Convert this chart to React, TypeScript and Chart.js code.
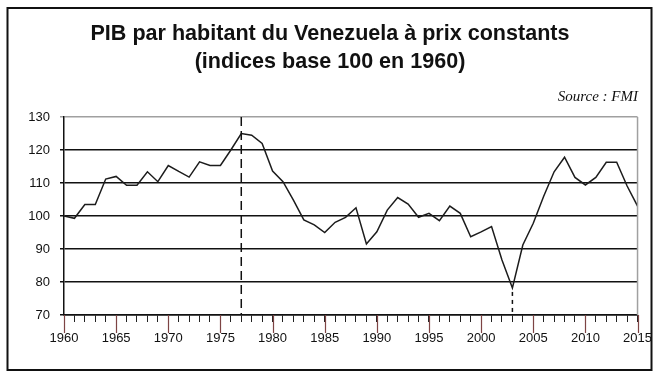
import React, { useEffect, useRef } from "react";
import { Chart, registerables } from "chart.js";

Chart.register(...registerables);

const TITLE_LINES = [
  "PIB par habitant du Venezuela à prix constants",
  "(indices base 100 en 1960)",
];
const SOURCE_TEXT = "Source : FMI";

const YEARS = [
  1960, 1961, 1962, 1963, 1964, 1965, 1966, 1967, 1968, 1969,
  1970, 1971, 1972, 1973, 1974, 1975, 1976, 1977, 1978, 1979,
  1980, 1981, 1982, 1983, 1984, 1985, 1986, 1987, 1988, 1989,
  1990, 1991, 1992, 1993, 1994, 1995, 1996, 1997, 1998, 1999,
  2000, 2001, 2002, 2003, 2004, 2005, 2006, 2007, 2008, 2009,
  2010, 2011, 2012, 2013, 2014, 2015,
];
const GDP_INDEX = [
  100, 99.3, 103.5, 103.5, 111.2, 112, 109.3, 109.3, 113.4, 110.4,
  115.3, 113.5, 111.8, 116.4, 115.3, 115.3, 120, 125, 124.5, 122,
  113.6, 110.4, 104.8, 98.8, 97.3, 95, 98.1, 99.6, 102.5, 91.5,
  95.2, 101.8, 105.6, 103.6, 99.6, 100.8, 98.6, 103, 100.8, 93.7,
  95.2, 96.8, 86.7, 78.2, 91.2, 97.8, 106, 113.4, 117.8, 111.7,
  109.4, 111.7, 116.3, 116.3, 109.1, 103,
];
const Y_MIN = 70;
const Y_MAX = 130;
const Y_STEP = 10;
const X_MIN = 1960;
const X_MAX = 2015;
const LABEL_EVERY = 5;
const MARK_YEAR_FULL = 1977;
const MARK_YEAR_LOW = 2003;

const decorPlugin = {
  id: "decor",
  afterDraw(chart: any) {
    const { ctx, chartArea, scales } = chart;
    const xs = scales.x;
    const ys = scales.y;
    ctx.save();
    // right border of plot area (gray)
    ctx.strokeStyle = "#a0a0a0";
    ctx.lineWidth = 1.5;
    ctx.beginPath();
    ctx.moveTo(chartArea.right, chartArea.top);
    ctx.lineTo(chartArea.right, chartArea.bottom);
    ctx.stroke();

    // long ticks every 5 years
    ctx.strokeStyle = "#7d4444";
    ctx.lineWidth = 1.2;
    for (let y = X_MIN; y <= X_MAX; y += LABEL_EVERY) {
      const px = Math.round(xs.getPixelForValue(y)) + 0.5;
      ctx.beginPath();
      ctx.moveTo(px, chartArea.bottom);
      ctx.lineTo(px, chartArea.bottom + 18);
      ctx.stroke();
    }

    // dashed vertical at 1977
    ctx.strokeStyle = "#111";
    ctx.lineWidth = 1.5;
    ctx.setLineDash([9, 5]);
    const x77 = xs.getPixelForValue(MARK_YEAR_FULL);
    ctx.beginPath();
    ctx.moveTo(x77, chartArea.top);
    ctx.lineTo(x77, chartArea.bottom);
    ctx.stroke();

    // dashed vertical at 2003 from the low point
    const idx = YEARS.indexOf(MARK_YEAR_LOW);
    const x03 = xs.getPixelForValue(MARK_YEAR_LOW);
    ctx.setLineDash([4, 4]);
    ctx.beginPath();
    ctx.moveTo(x03, ys.getPixelForValue(GDP_INDEX[idx]) + 4);
    ctx.lineTo(x03, chartArea.bottom);
    ctx.stroke();
    ctx.setLineDash([]);

    // title (condensed look)
    ctx.fillStyle = "#111";
    ctx.textAlign = "center";
    ctx.textBaseline = "middle";
    ctx.font = 'bold 22px "Liberation Sans Narrow", "Liberation Sans", Arial, sans-serif';
    const w1 = ctx.measureText(TITLE_LINES[0]).width;
    const sx = 479 / w1;
    const cx = 330;
    const lineY = [34, 62];
    TITLE_LINES.forEach((t, i) => {
      ctx.save();
      ctx.translate(cx, lineY[i]);
      ctx.scale(sx, 1);
      ctx.fillText(t, 0, 0);
      ctx.restore();
    });

    // source
    ctx.font = 'italic 15px "Liberation Serif", "Times New Roman", serif';
    ctx.textAlign = "right";
    ctx.fillText(SOURCE_TEXT, 638, 97);

    // outer frame
    ctx.strokeStyle = "#111";
    ctx.lineWidth = 2;
    ctx.strokeRect(7.5, 8, 644, 362);
    ctx.restore();
  },
};

export default function App() {
  const ref = useRef<HTMLCanvasElement | null>(null);

  useEffect(() => {
    document.body.style.margin = "0";
    const canvas = ref.current;
    if (!canvas) return;
    const chart = new Chart(canvas, {
      type: "line",
      data: {
        datasets: [
          {
            data: YEARS.map((y, i) => ({ x: y, y: GDP_INDEX[i] })),
            borderColor: "#1c1c1c",
            borderWidth: 1.5,
            pointRadius: 0,
            tension: 0,
            fill: false,
          },
        ],
      },
      options: {
        responsive: false,
        animation: false,
        layout: { padding: { top: 117, right: 21, bottom: 0, left: 0 } },
        plugins: {
          legend: { display: false },
          tooltip: { enabled: false },
          title: { display: false },
        },
        scales: {
          x: {
            type: "linear",
            min: X_MIN,
            max: X_MAX,
            afterFit: (s: any) => {
              s.height = 69;
            },
            ticks: {
              stepSize: 1,
              autoSkip: false,
              maxRotation: 0,
              padding: 9,
              color: "#111",
              font: { family: '"Liberation Sans", Arial, sans-serif', size: 13 },
              callback: (v: any) => (Number(v) % LABEL_EVERY === 0 ? String(v) : ""),
            },
            grid: {
              drawOnChartArea: false,
              drawTicks: true,
              tickLength: 7,
              color: "#222",
              lineWidth: 1,
            },
            border: { display: true, color: "#111", width: 1.5 },
          },
          y: {
            min: Y_MIN,
            max: Y_MAX,
            afterFit: (s: any) => {
              s.width = 64;
            },
            ticks: {
              stepSize: Y_STEP,
              padding: 10,
              color: "#111",
              font: { family: '"Liberation Sans", Arial, sans-serif', size: 13 },
            },
            grid: {
              tickLength: 4,
              color: (c: any) => (c.tick && c.tick.value === Y_MAX ? "#a0a0a0" : "#111"),
              lineWidth: 1.5,
            },
            border: { display: true, color: "#111", width: 1.5 },
          },
        },
      },
      plugins: [decorPlugin],
    });
    return () => chart.destroy();
  }, []);

  return (
    <div style={{ width: 661, height: 384, background: "#fff" }}>
      <canvas ref={ref} width={661} height={384} style={{ display: "block" }} />
    </div>
  );
}
